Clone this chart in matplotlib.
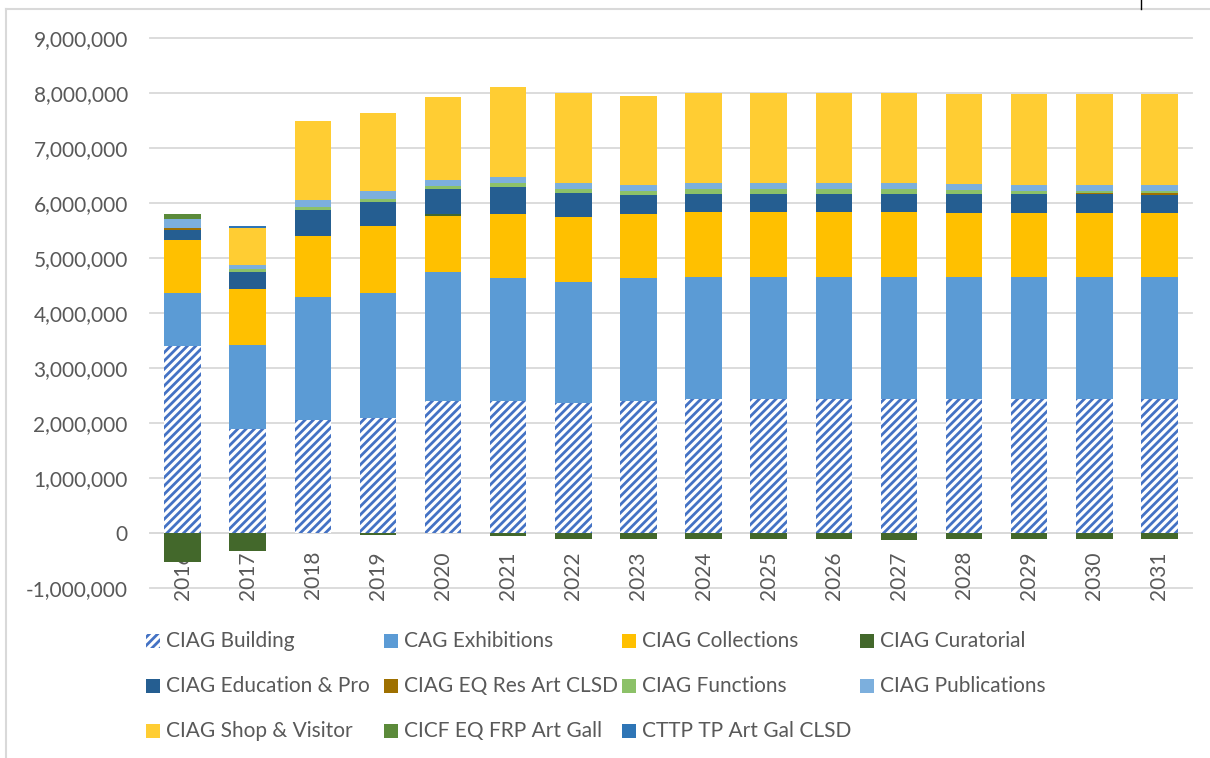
"""Stacked CIAG budget lines by year, redrawn from the Excel chart."""

import matplotlib

matplotlib.use("Agg")

import matplotlib.pyplot as plt
import numpy as np
from matplotlib.lines import Line2D
from matplotlib.patches import Rectangle
from matplotlib.ticker import FuncFormatter


YEARS = [str(y) for y in range(2016, 2032)]

# values in millions
BUILDING = [3.40, 1.885, 2.05, 2.10, 2.40, 2.40, 2.37, 2.40, 2.43, 2.43, 2.43, 2.43, 2.43, 2.43, 2.43, 2.43]
EXHIBITIONS = [0.97, 1.525, 2.236, 2.265, 2.35, 2.236, 2.20, 2.24, 2.23, 2.23, 2.23, 2.23, 2.23, 2.23, 2.23, 2.23]
COLLECTIONS = [0.958, 1.025, 1.12, 1.218, 1.018, 1.158, 1.176, 1.158, 1.176, 1.176, 1.176, 1.176, 1.164, 1.164, 1.164, 1.164]
CURATORIAL = [-0.52, -0.32, 0.0, -0.03, 0.03, -0.06, -0.11, -0.11, -0.11, -0.11, -0.11, -0.13, -0.11, -0.11, -0.11, -0.11]
EDUCATION = [0.176, 0.31, 0.473, 0.436, 0.455, 0.496, 0.44, 0.345, 0.333, 0.333, 0.333, 0.333, 0.333, 0.333, 0.34, 0.32]
EQ_RES = [0.047, -0.01, 0, 0, 0, 0, 0, 0, 0, 0, 0, 0, 0, 0, 0.02, 0.03]
FUNCTIONS = [0.0, 0.055, 0.044, 0.05, 0.055, 0.073, 0.062, 0.067, 0.08, 0.08, 0.08, 0.08, 0.08, 0.067, 0.04, 0.05]
PUBLICATIONS = [0.158, 0.078, 0.133, 0.145, 0.109, 0.109, 0.109, 0.109, 0.109, 0.109, 0.109, 0.109, 0.109, 0.109, 0.109, 0.109]
SHOP = [0.0, 0.667, 1.436, 1.418, 1.509, 1.63, 1.64, 1.62, 1.64, 1.64, 1.64, 1.64, 1.64, 1.64, 1.64, 1.64]
CICF = [0.09, 0, 0, 0, 0, 0, 0, 0, 0, 0, 0, 0, 0, 0, 0, 0]
CTTP = [0, 0.03, 0, 0, 0, 0, 0, 0, 0, 0, 0, 0, 0, 0, 0, 0]

SERIES = [
    ("CIAG Building", BUILDING, "#4472C4"),
    ("CAG Exhibitions", EXHIBITIONS, "#5B9BD5"),
    ("CIAG Collections", COLLECTIONS, "#FFC000"),
    ("CIAG Curatorial", CURATORIAL, "#43682B"),
    ("CIAG Education & Pro", EDUCATION, "#255E91"),
    ("CIAG EQ Res Art CLSD", EQ_RES, "#9E7000"),
    ("CIAG Functions", FUNCTIONS, "#8CC168"),
    ("CIAG Publications", PUBLICATIONS, "#7CAFDD"),
    ("CIAG Shop & Visitor", SHOP, "#FFCD33"),
    ("CICF EQ FRP Art Gall", CICF, "#5B8A3A"),
    ("CTTP TP Art Gal CLSD", CTTP, "#2E75B6"),
]

TEXT = "#595959"
GRID = "#D9D9D9"
W, H = 1210, 758

plt.rcParams["font.family"] = ["Lato", "DejaVu Sans"]
plt.rcParams["hatch.linewidth"] = 2.0


def fx(px):
    return px / W


def fy(py):
    return 1 - py / H


def main():
    fig = plt.figure(figsize=(W / 100, H / 100), dpi=100)
    ax = fig.add_axes([fx(150), fy(588), fx(1192) - fx(150), fy(38) - fy(588)])

    x = np.arange(len(YEARS))
    pos_bottom = np.zeros(len(YEARS))
    neg_bottom = np.zeros(len(YEARS))
    for i, (name, vals, color) in enumerate(SERIES):
        v = np.asarray(vals, dtype=float) * 1e6
        bottom = np.where(v >= 0, pos_bottom, neg_bottom)
        if i == 0:
            ax.bar(x, v, 0.56, bottom=bottom, color="white", edgecolor=color,
                   hatch="////", linewidth=0, zorder=2)
        else:
            ax.bar(x, v, 0.56, bottom=bottom, color=color, linewidth=0, zorder=2)
        pos_bottom += np.where(v >= 0, v, 0)
        neg_bottom += np.where(v < 0, v, 0)

    ax.set_xlim(-0.5, len(YEARS) - 0.5)
    ax.set_ylim(-1e6, 9e6)
    yticks = np.arange(-1e6, 9.5e6, 1e6)
    ax.set_yticks(yticks)
    ax.yaxis.set_major_formatter(FuncFormatter(lambda v, _: f"{v:,.0f}"))
    ax.set_xticks(x)
    ax.set_xticklabels(YEARS)
    ax.tick_params(axis="y", length=0, pad=16, labelsize=15, labelcolor=TEXT)
    ax.tick_params(axis="x", length=0, pad=13, labelsize=15, labelcolor=TEXT, labelrotation=90)
    # gridlines behind the bars, year labels stay on top (as in Excel)
    for yv in yticks:
        ax.axhline(yv, color=GRID, linewidth=1.3, zorder=0.5, clip_on=False)
    for side in ("left", "right", "top"):
        ax.spines[side].set_visible(False)
    ax.spines["bottom"].set_position(("data", 0))
    ax.spines["bottom"].set_color(GRID)
    ax.spines["bottom"].set_linewidth(1.3)
    ax.spines["bottom"].set_zorder(0.5)

    # legend laid out like Excel: 4 equal columns, 3 rows
    col_x = [146, 384, 622, 860]
    row_y = [641, 686, 731]
    for k, (name, vals, color) in enumerate(SERIES):
        cx = col_x[k % 4]
        cy = row_y[k // 4]
        if k == 0:
            box = Rectangle((fx(cx), fy(cy + 7)), fx(14), 14 / H, transform=fig.transFigure,
                            facecolor="white", edgecolor=color, hatch="////", linewidth=0)
        else:
            box = Rectangle((fx(cx), fy(cy + 7)), fx(14), 14 / H, transform=fig.transFigure,
                            facecolor=color, linewidth=0)
        fig.add_artist(box)
        fig.text(fx(cx + 20), fy(cy), name, fontsize=15, color=TEXT, va="center", ha="left")

    # chart area frame, cut off by the screenshot
    fig.add_artist(Line2D([fx(6), fx(6)], [fy(9), 0], color=GRID, linewidth=1.5, transform=fig.transFigure))
    fig.add_artist(Line2D([fx(6), 1], [fy(9), fy(9)], color=GRID, linewidth=1.5, transform=fig.transFigure))
    fig.add_artist(Line2D([fx(1141), fx(1141)], [1, fy(9)], color="black", linewidth=1.0, transform=fig.transFigure))

    fig.savefig("out.png", dpi=100)
    plt.close(fig)


if __name__ == "__main__":
    main()
